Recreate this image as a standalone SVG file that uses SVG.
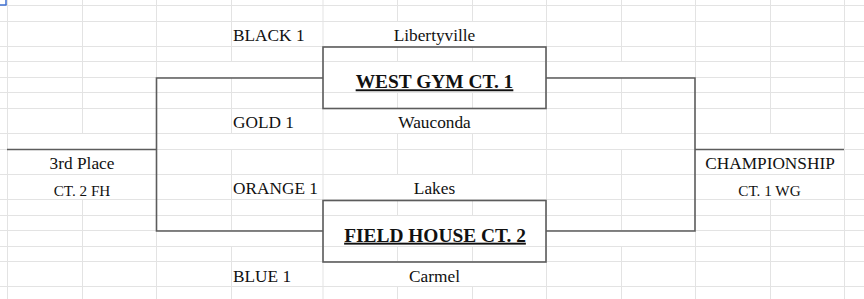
<svg xmlns="http://www.w3.org/2000/svg" width="864" height="299" viewBox="0 0 864 299">
<style>
.bg{fill:#ffffff}
.grid line{stroke:#e3e3e3;stroke-width:1}
.dark{stroke:#5c5c5c;stroke-width:1.6;fill:none}
.box{fill:none;stroke:#5c5c5c;stroke-width:1.6}
.t{font-size:17.3px;fill:#111}
.s{font-size:15.2px;fill:#111}
.title{font-size:19.4px;font-weight:bold;fill:#111;text-decoration:underline}
.c{text-anchor:middle}
.sel{stroke:#3f6fd0;stroke-width:1.5}
</style>
<rect class="bg" x="0" y="0" width="864" height="299"/>
<g id="grid" class="grid">
  <line x1="0" y1="5.5" x2="864" y2="5.5"/>
  <line x1="0" y1="21.5" x2="864" y2="21.5"/>
  <line x1="0" y1="46.5" x2="864" y2="46.5"/>
  <line x1="0" y1="61.5" x2="864" y2="61.5"/>
  <line x1="0" y1="77.5" x2="323" y2="77.5"/>
  <line x1="546" y1="77.5" x2="864" y2="77.5"/>
  <line x1="0" y1="92.5" x2="864" y2="92.5"/>
  <line x1="0" y1="108.5" x2="864" y2="108.5"/>
  <line x1="0" y1="133.5" x2="864" y2="133.5"/>
  <line x1="0" y1="149.5" x2="864" y2="149.5"/>
  <line x1="0" y1="174.5" x2="864" y2="174.5"/>
  <line x1="0" y1="199.5" x2="864" y2="199.5"/>
  <line x1="0" y1="215.5" x2="864" y2="215.5"/>
  <line x1="0" y1="230.5" x2="323" y2="230.5"/>
  <line x1="546" y1="230.5" x2="864" y2="230.5"/>
  <line x1="0" y1="246.5" x2="864" y2="246.5"/>
  <line x1="0" y1="261.5" x2="864" y2="261.5"/>
  <line x1="0" y1="286.5" x2="864" y2="286.5"/>
  <line x1="7.5" y1="0" x2="7.5" y2="299"/>
  <line x1="82.5" y1="0" x2="82.5" y2="134"/>
  <line x1="82.5" y1="200" x2="82.5" y2="299"/>
  <line x1="156.5" y1="0" x2="156.5" y2="78"/>
  <line x1="156.5" y1="231" x2="156.5" y2="299"/>
  <line x1="231.5" y1="0" x2="231.5" y2="62"/>
  <line x1="231.5" y1="78" x2="231.5" y2="134"/>
  <line x1="231.5" y1="149" x2="231.5" y2="231"/>
  <line x1="231.5" y1="247" x2="231.5" y2="299"/>
  <line x1="323" y1="0" x2="323" y2="299"/>
  <line x1="397.5" y1="0" x2="397.5" y2="22"/>
  <line x1="397.5" y1="47" x2="397.5" y2="62"/>
  <line x1="397.5" y1="93" x2="397.5" y2="109"/>
  <line x1="397.5" y1="134" x2="397.5" y2="175"/>
  <line x1="397.5" y1="200" x2="397.5" y2="216"/>
  <line x1="397.5" y1="247" x2="397.5" y2="262"/>
  <line x1="397.5" y1="287" x2="397.5" y2="299"/>
  <line x1="472.5" y1="0" x2="472.5" y2="22"/>
  <line x1="472.5" y1="47" x2="472.5" y2="62"/>
  <line x1="472.5" y1="93" x2="472.5" y2="109"/>
  <line x1="472.5" y1="134" x2="472.5" y2="175"/>
  <line x1="472.5" y1="200" x2="472.5" y2="216"/>
  <line x1="472.5" y1="247" x2="472.5" y2="262"/>
  <line x1="472.5" y1="287" x2="472.5" y2="299"/>
  <line x1="546.5" y1="0" x2="546.5" y2="299"/>
  <line x1="621.5" y1="0" x2="621.5" y2="62"/>
  <line x1="621.5" y1="78" x2="621.5" y2="134"/>
  <line x1="621.5" y1="149" x2="621.5" y2="231"/>
  <line x1="621.5" y1="247" x2="621.5" y2="299"/>
  <line x1="695.5" y1="0" x2="695.5" y2="78"/>
  <line x1="695.5" y1="231" x2="695.5" y2="299"/>
  <line x1="770.5" y1="0" x2="770.5" y2="134"/>
  <line x1="770.5" y1="200" x2="770.5" y2="299"/>
  <line x1="844.5" y1="0" x2="844.5" y2="299"/>
</g>
<g id="selection">
  <line class="sel" x1="6" y1="0" x2="6" y2="5"/>
  <line class="sel" x1="0" y1="5" x2="6.5" y2="5"/>
</g>
<g id="connectors">
  <polyline class="dark" points="7,149.5 156.5,149.5"/>
  <polyline class="dark" points="323,78 156.5,78 156.5,231 323,231"/>
  <polyline class="dark" points="546,78 695,78 695,231 546,231"/>
  <polyline class="dark" points="695,149.5 844,149.5"/>
</g>
<g font-family="Liberation Serif, Times New Roman, serif">
<g id="west-gym">
  <rect class="box" x="323" y="47" width="223" height="61.5"/>
  <text class="title c" x="434.5" y="88.3">WEST GYM CT. 1</text>
</g>
<g id="field-house">
  <rect class="box" x="323" y="200.5" width="223" height="61.5"/>
  <text class="title c" x="435" y="241.7">FIELD HOUSE CT. 2</text>
</g>
<g id="third-place">
  <text class="t c" x="82" y="169">3rd Place</text>
  <text class="s c" x="82" y="195.5">CT. 2 FH</text>
</g>
<g id="championship">
  <text class="t c" x="770" y="169">CHAMPIONSHIP</text>
  <text class="s c" x="769.5" y="195.5">CT. 1 WG</text>
</g>
<g id="seeds">
  <text class="t" x="233" y="41">BLACK 1</text>
  <text class="t" x="233" y="128.3">GOLD 1</text>
  <text class="t" x="233" y="194.3">ORANGE 1</text>
  <text class="t" x="233" y="281.7">BLUE 1</text>
</g>
<g id="teams">
  <text class="t c" x="434.5" y="41">Libertyville</text>
  <text class="t c" x="434.5" y="128.3">Wauconda</text>
  <text class="t c" x="434.5" y="194">Lakes</text>
  <text class="t c" x="434.5" y="281.7">Carmel</text>
</g>
</g>
</svg>
